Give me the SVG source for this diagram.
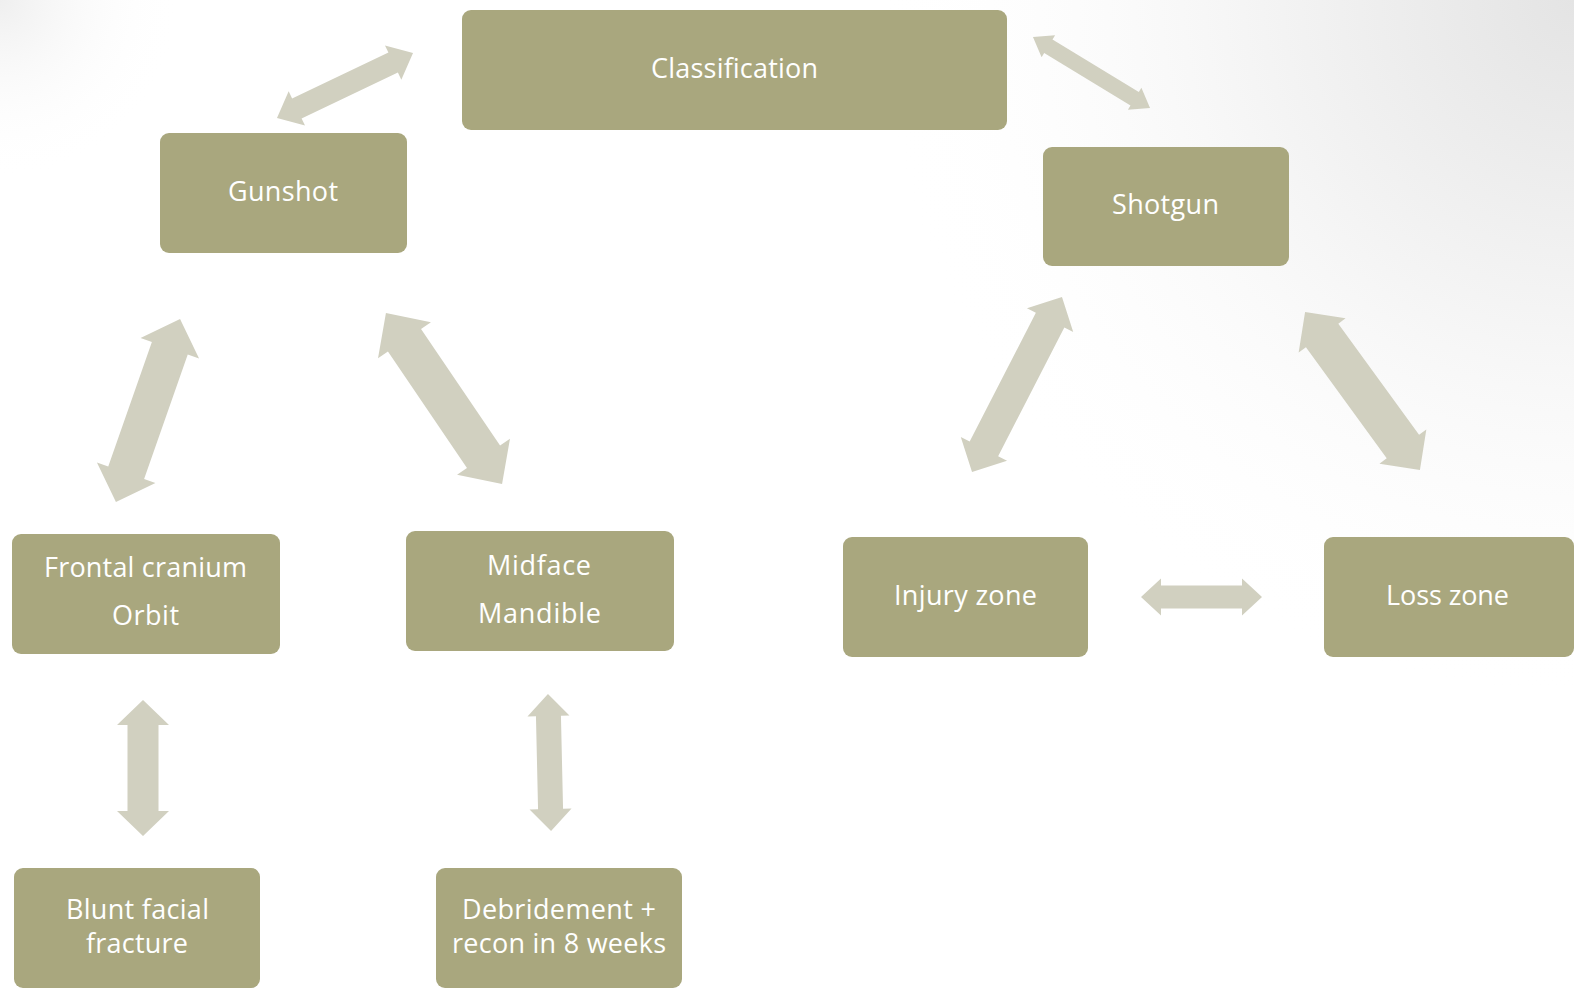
<svg xmlns="http://www.w3.org/2000/svg" width="1574" height="997" viewBox="0 0 1574 997">
<defs>
<radialGradient id="bgR" cx="1574" cy="0" r="700" gradientUnits="userSpaceOnUse">
<stop offset="0" stop-color="#e4e4e4"/>
<stop offset="0.5" stop-color="#f6f6f6"/>
<stop offset="1" stop-color="#ffffff" stop-opacity="0"/>
</radialGradient>
<radialGradient id="bgL" cx="0" cy="0" r="180" gradientUnits="userSpaceOnUse">
<stop offset="0" stop-color="#efefef"/>
<stop offset="1" stop-color="#ffffff" stop-opacity="0"/>
</radialGradient>
<style>
.box{fill:#a9a77e;}
.arr{fill:#d1d0c0;}
.lbl{fill:#ffffff;font-family:"Open Sans","DejaVu Sans",sans-serif;font-size:27px;text-anchor:middle;}
</style>
</defs>
<rect width="1574" height="997" fill="#ffffff"/>
<rect width="1574" height="997" fill="url(#bgR)"/>
<rect width="1574" height="997" fill="url(#bgL)"/>

<g id="connectors">
<polygon class="arr" transform="translate(345,85.5) rotate(-25.5)" points="-75.35,0 -53.35,-19 -53.35,-11 53.35,-11 53.35,-19 75.35,0 53.35,19 53.35,11 -53.35,11 -53.35,19"/>
<polygon class="arr" transform="translate(1091.5,72.5) rotate(31.3)" points="-68.5,0 -50.5,-13 -50.5,-8 50.5,-8 50.5,-13 68.5,0 50.5,13 50.5,8 -50.5,8 -50.5,13"/>
<polygon class="arr" transform="translate(148,410.5) rotate(-70.7)" points="-97,0 -66,-31 -66,-19 66,-19 66,-31 97,0 66,31 66,19 -66,19 -66,31"/>
<polygon class="arr" transform="translate(444,398.5) rotate(55.8)" points="-103.3,0 -70.3,-32 -70.3,-20 70.3,-20 70.3,-32 103.3,0 70.3,32 70.3,20 -70.3,20 -70.3,32"/>
<polygon class="arr" transform="translate(1017,384.5) rotate(-62.8)" points="-98.4,0 -72.4,-26 -72.4,-16 72.4,-16 72.4,-26 98.4,0 72.4,26 72.4,16 -72.4,16 -72.4,26"/>
<polygon class="arr" transform="translate(1362.5,391) rotate(54)" points="-97.7,0 -68.7,-29 -68.7,-20 68.7,-20 68.7,-29 97.7,0 68.7,29 68.7,20 -68.7,20 -68.7,29"/>
<polygon class="arr" transform="translate(1201.5,597)" points="-60.5,0 -40.5,-18.5 -40.5,-11.5 40.5,-11.5 40.5,-18.5 60.5,0 40.5,18.5 40.5,11.5 -40.5,11.5 -40.5,18.5"/>
<polygon class="arr" transform="translate(143,768) rotate(90)" points="-68,0 -43,-26 -43,-15.5 43,-15.5 43,-26 68,0 43,26 43,15.5 -43,15.5 -43,26"/>
<polygon class="arr" transform="translate(549.5,762.5) rotate(88.7)" points="-68.5,0 -46.5,-21 -46.5,-12.5 46.5,-12.5 46.5,-21 68.5,0 46.5,21 46.5,12.5 -46.5,12.5 -46.5,21"/>
</g>

<g id="classification">
<rect class="box" x="462" y="10" width="545" height="120" rx="9"/>
<text class="lbl" x="734.5" y="78" textLength="167">Classification</text>
</g>
<g id="gunshot">
<rect class="box" x="160" y="133" width="247" height="120" rx="9"/>
<text class="lbl" x="283" y="201" textLength="110">Gunshot</text>
</g>
<g id="shotgun">
<rect class="box" x="1043" y="147" width="246" height="119" rx="9"/>
<text class="lbl" x="1165.5" y="214" textLength="107">Shotgun</text>
</g>
<g id="frontal">
<rect class="box" x="12" y="534" width="268" height="120" rx="9"/>
<text class="lbl" x="145.5" y="577" textLength="203">Frontal cranium</text>
<text class="lbl" x="145.5" y="625" textLength="67">Orbit</text>
</g>
<g id="midface">
<rect class="box" x="406" y="531" width="268" height="120" rx="9"/>
<text class="lbl" x="539" y="575" textLength="104">Midface</text>
<text class="lbl" x="539.5" y="623" textLength="123">Mandible</text>
</g>
<g id="injury">
<rect class="box" x="843" y="537" width="245" height="120" rx="9"/>
<text class="lbl" x="965.5" y="605" textLength="143">Injury zone</text>
</g>
<g id="loss">
<rect class="box" x="1324" y="537" width="250" height="120" rx="9"/>
<text class="lbl" x="1447.5" y="605" textLength="123">Loss zone</text>
</g>
<g id="blunt">
<rect class="box" x="14" y="868" width="246" height="120" rx="9"/>
<text class="lbl" x="137.5" y="919" textLength="143">Blunt facial</text>
<text class="lbl" x="137" y="953" textLength="102">fracture</text>
</g>
<g id="debridement">
<rect class="box" x="436" y="868" width="246" height="120" rx="9"/>
<text class="lbl" x="559" y="919" textLength="194">Debridement +</text>
<text class="lbl" x="559" y="953" textLength="214">recon in 8 weeks</text>
</g>
</svg>
